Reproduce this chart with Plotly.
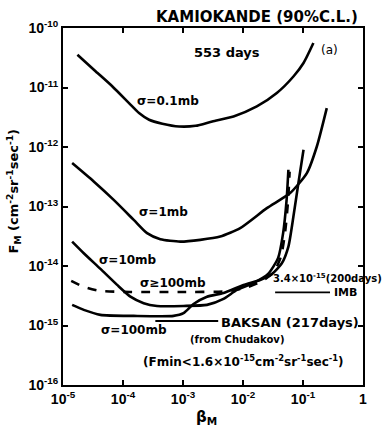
import plotly.graph_objects as go

# ---- data ----
beta_01 = [1.74e-5, 3.52e-5, 6.67e-5, 1.26e-4, 1.85e-4, 2.72e-4, 4.53e-4, 8.58e-4, 1.62e-3, 3.08e-3, 6.95e-3, 1.70e-2, 3.66e-2, 6.92e-2, 0.102, 0.149]
flux_01 = [3.56e-11, 1.86e-11, 1.04e-11, 5.47e-12, 3.72e-12, 2.87e-12, 2.46e-12, 2.21e-12, 2.27e-12, 2.69e-12, 3.26e-12, 4.80e-12, 8.07e-12, 1.53e-11, 2.58e-11, 5.60e-11]

beta_1 = [1.42e-5, 3.25e-5, 7.00e-5, 1.51e-4, 2.52e-4, 4.19e-4, 9.01e-4, 1.94e-3, 4.18e-3, 8.98e-3, 2.50e-2, 6.10e-2, 0.116, 0.170, 0.249]
flux_1 = [5.36e-13, 2.63e-13, 1.29e-13, 5.96e-14, 3.56e-14, 2.82e-14, 2.57e-14, 2.75e-14, 3.12e-14, 4.33e-14, 9.38e-14, 1.68e-13, 3.64e-13, 1.02e-12, 4.51e-12]

beta_10 = [1.42e-5, 2.22e-5, 4.21e-5, 7.98e-5, 1.33e-4, 2.21e-4, 3.69e-4, 1.02e-3, 2.51e-3, 4.73e-3, 7.92e-3, 1.50e-2, 2.62e-2, 3.85e-2, 4.67e-2, 5.33e-2, 5.71e-2]
flux_10 = [2.57e-14, 1.64e-14, 8.93e-15, 4.81e-15, 3.05e-15, 2.37e-15, 2.13e-15, 2.13e-15, 2.22e-15, 2.80e-15, 3.96e-15, 5.20e-15, 7.37e-15, 1.37e-14, 3.60e-14, 1.29e-13, 4.14e-13]

beta_100 = [1.42e-5, 2.22e-5, 4.21e-5, 1.51e-4, 6.98e-4, 1.02e-3, 1.50e-3, 2.51e-3, 4.73e-3, 1.02e-2, 1.93e-2, 3.06e-2, 4.44e-2, 5.71e-2, 6.92e-2, 8.38e-2, 0.102]
flux_100 = [2.22e-15, 1.83e-15, 1.51e-15, 1.45e-15, 1.45e-15, 1.61e-15, 2.30e-15, 3.05e-15, 3.52e-15, 4.81e-15, 5.83e-15, 7.37e-15, 1.11e-14, 2.12e-14, 6.78e-14, 2.47e-13, 8.98e-13]

beta_ge100 = [1.37e-5, 2.22e-5, 4.21e-5, 1.33e-4, 9.01e-4, 5.06e-3, 1.09e-2, 2.09e-2, 3.30e-2, 4.32e-2, 5.04e-2, 5.65e-2, 5.98e-2]
flux_ge100 = [5.61e-15, 4.45e-15, 3.81e-15, 3.66e-15, 3.66e-15, 3.74e-15, 4.28e-15, 5.61e-15, 7.96e-15, 1.48e-14, 3.75e-14, 1.29e-13, 3.83e-13]

imb_beta = [3.43e-2, 0.282]
imb_flux = [3.6e-15, 3.6e-15]

baksan_beta = [3.46e-4, 3.86e-3]
baksan_flux = [1.19e-15, 1.19e-15]

x_tickvals = [1e-5, 1e-4, 1e-3, 1e-2, 1e-1, 1]
x_ticktext = ["10<sup>-5</sup>", "10<sup>-4</sup>", "10<sup>-3</sup>", "10<sup>-2</sup>", "10<sup>-1</sup>", "1"]
y_tickvals = [1e-16, 1e-15, 1e-14, 1e-13, 1e-12, 1e-11, 1e-10]
y_ticktext = ["10<sup>-16</sup>", "10<sup>-15</sup>", "10<sup>-14</sup>", "10<sup>-13</sup>",
              "10<sup>-12</sup>", "10<sup>-11</sup>", "10<sup>-10</sup>"]

TICKFONT = "Liberation Sans"
FONT = "DejaVu Sans"
LW = 2.6

fig = go.Figure()
for bx, fy, dash in [(beta_01, flux_01, "solid"), (beta_1, flux_1, "solid"),
                     (beta_10, flux_10, "solid"), (beta_100, flux_100, "solid"),
                     (beta_ge100, flux_ge100, "dash")]:
    fig.add_trace(go.Scatter(x=bx, y=fy, mode="lines",
                             line=dict(color="black", width=LW, dash=dash, shape="spline", smoothing=0.6),
                             showlegend=False, hoverinfo="skip"))
for bx, fy in [(imb_beta, imb_flux), (baksan_beta, baksan_flux)]:
    fig.add_trace(go.Scatter(x=bx, y=fy, mode="lines", line=dict(color="black", width=1.8),
                             showlegend=False, hoverinfo="skip"))

W, H = 385, 427
L, R, T, B = 62.5, 22, 28.3, 42


def px(x, y):
    return (x - L) / (W - L - R), (H - B - y) / (H - T - B)


def ann(text, x, y, size=12, xanchor="center", bold=True, textangle=0):
    xp, yp = px(x, y)
    fig.add_annotation(text=text, x=xp, y=yp, xref="paper", yref="paper", showarrow=False,
                       xanchor=xanchor, yanchor="middle", textangle=textangle,
                       font=dict(family=FONT, size=size, color="black", weight="bold" if bold else "normal"))


ann("KAMIOKANDE (90%C.L.)", 257, 17, size=15)
ann("553 days", 227, 53, size=13)
ann("(a)", 329, 50, size=12, bold=False)
ann("σ=0.1mb", 168, 101, size=12)
ann("σ=1mb", 163, 212, size=12)
ann("σ=10mb", 128, 260, size=12)
ann("σ≥100mb", 173, 283, size=12)
ann("σ=100mb", 134, 330, size=12)
ann("BAKSAN (217days)", 219, 323, size=13, xanchor="left")
ann("(from Chudakov)", 237, 340, size=10)
ann("(Fmin<1.6×10<sup>-15</sup>cm<sup>-2</sup>sr<sup>-1</sup>sec<sup>-1</sup>)", 243, 361, size=12)
ann("3.4×10<sup>-15</sup>(200days)", 384, 278, size=10, xanchor="right")
ann("IMB", 332, 293, size=11, xanchor="left")
ann("β<sub>M</sub>", 206, 417, size=15)
ann("F<sub>M</sub> (cm<sup>-2</sup>sr<sup>-1</sup>sec<sup>-1</sup>)", 13, 192, size=13, textangle=-90)

axis_common = dict(type="log", showgrid=False, zeroline=False, showline=True, linecolor="black",
                   linewidth=2, mirror="allticks", ticks="inside", ticklen=5, tickwidth=1.5,
                   tickcolor="black", tickfont=dict(family=TICKFONT, size=14, color="black", weight="bold"))
fig.update_xaxes(range=[-5, 0], tickvals=x_tickvals, ticktext=x_ticktext, **axis_common)
fig.update_yaxes(range=[-16, -10], tickvals=y_tickvals, ticktext=y_ticktext, **axis_common)

fig.update_layout(width=W, height=H, margin=dict(l=L, r=R, t=T, b=B),
                  paper_bgcolor="white", plot_bgcolor="white",
                  font=dict(family=FONT, color="black"))
fig.write_html("out.html")
